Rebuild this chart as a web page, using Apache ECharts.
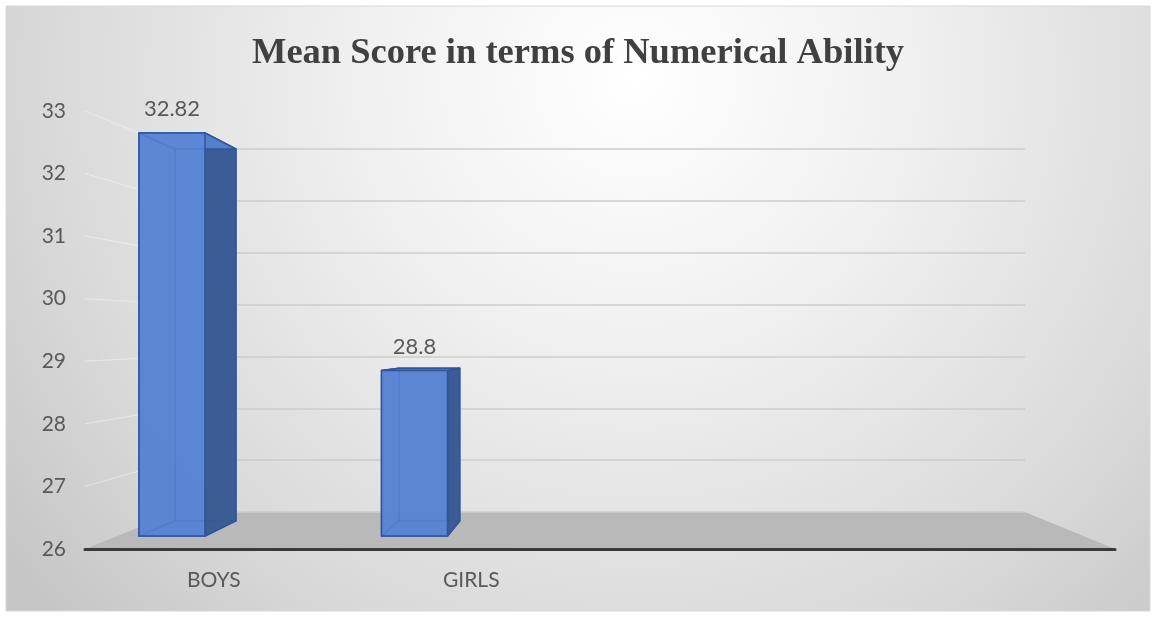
<!DOCTYPE html>
<html>
<head>
<meta charset="utf-8">
<title>Mean Score in terms of Numerical Ability</title>
<script src="https://cdn.jsdelivr.net/npm/echarts@6/dist/echarts.min.js"></script>
<style>
  html, body { margin: 0; padding: 0; background: #ffffff; }
  #chart { width: 1156px; height: 617px; }
</style>
</head>
<body>
<div id="chart"></div>
<script>
// 数据
const categories = ["BOYS", "GIRLS", "", ""];
const meanScores = [32.82, 28.8, null, null];
const yMin = 26;
const yMax = 33;
const yStep = 1;

// 3D 透视（像素）
const vanish = [606, 340];
const depthScale = 0.923;
const barRatio = 0.272;

const labelFont = "Lato";
const textColor = "#595959";

const chart = echarts.init(document.getElementById("chart"));

function toBack(p) {
  return [vanish[0] + depthScale * (p[0] - vanish[0]), vanish[1] + depthScale * (p[1] - vanish[1])];
}

function renderBox(params, api) {
  const idx = api.value(0);
  const v = api.value(1);
  const top = api.coord([idx, v]);
  const base = api.coord([idx, yMin]);
  const w = api.size([1, 0])[0] * barRatio;
  const x0 = top[0] - w / 2;
  const x1 = top[0] + w / 2;
  const y0 = top[1];
  const y1 = base[1];
  const f = [[x0, y0], [x1, y0], [x1, y1], [x0, y1]];
  const b = f.map(toBack);
  const edge = { stroke: "#2f55a0", lineWidth: 1.5, lineJoin: "round" };
  const face = (pts, fill) => ({
    type: "polygon",
    shape: { points: pts },
    style: Object.assign({ fill: fill }, edge),
  });
  return {
    type: "group",
    children: [
      face(b, "rgba(80,125,200,0.9)"),
      face([f[3], f[2], b[2], b[3]], "rgba(80,125,200,0.9)"),
      face([f[0], f[3], b[3], b[0]], "rgba(80,125,200,0.9)"),
      face([f[1], f[2], b[2], b[1]], "rgba(58,90,145,0.95)"),
      face([f[0], f[1], b[1], b[0]], "rgba(88,132,208,0.9)"),
      face(f, "rgba(90,134,212,0.84)"),
      {
        type: "text",
        style: {
          x: top[0],
          y: y0 - 24,
          text: String(v),
          fill: textColor,
          font: "22px " + labelFont,
          align: "center",
          verticalAlign: "middle",
        },
      },
    ],
  };
}

const option = {
  animation: false,
  title: {
    text: "Mean Score in terms of Numerical Ability",
    left: "center",
    top: 30,
    textStyle: {
      fontFamily: "Liberation Serif",
      fontWeight: "bold",
      fontSize: 36.5,
      color: "#404040",
    },
  },
  grid: [
    // 前平面：刻度标签与类目
    { left: 85, width: 1030, top: 110.8, height: 438.2 },
    // 柱体
    { left: 50.75, width: 970, top: 122.4, height: 413.6 },
    // 后墙网格
    { left: 177, width: 848, top: 149, height: 363 },
  ],
  xAxis: [
    {
      gridIndex: 0,
      type: "category",
      data: categories,
      axisLine: { lineStyle: { color: "#3a3a3a", width: 3 } },
      axisTick: { show: false },
      axisLabel: { color: textColor, fontFamily: labelFont, fontSize: 21, margin: 21 },
    },
    { gridIndex: 1, type: "category", data: categories, show: false },
    { gridIndex: 2, type: "category", data: categories, show: false },
  ],
  yAxis: [
    {
      gridIndex: 0,
      type: "value",
      min: yMin,
      max: yMax,
      interval: yStep,
      axisLine: { show: false },
      axisTick: { show: false },
      splitLine: { show: false },
      axisLabel: { color: textColor, fontFamily: labelFont, fontSize: 21, margin: 19 },
    },
    { gridIndex: 1, type: "value", min: yMin, max: yMax, interval: yStep, show: false, splitLine: { show: false } },
    {
      gridIndex: 2,
      type: "value",
      min: yMin,
      max: yMax,
      interval: yStep,
      axisLine: { show: false },
      axisTick: { show: false },
      axisLabel: { show: false },
      splitLine: { lineStyle: { color: "#cdcdcd", width: 1.5 } },
    },
  ],
  series: [
    {
      type: "custom",
      name: "Mean Score",
      xAxisIndex: 1,
      yAxisIndex: 1,
      renderItem: renderBox,
      data: meanScores
        .map((v, i) => (v == null ? null : [i, v]))
        .filter((d) => d),
      z: 5,
    },
  ],
};

chart.setOption(option);

// 背景、地板、左墙线
const yTicks = [];
for (let t = yMin; t <= yMax; t += yStep) yTicks.push(t);
const frontLeft = 85, frontRight = 1115, backLeft = 177, backRight = 1025;
const frontY = (v) => chart.convertToPixel({ yAxisIndex: 0 }, v);
const backY = (v) => chart.convertToPixel({ yAxisIndex: 2 }, v);

const graphics = [
  {
    type: "rect",
    z: -100,
    shape: { x: 6, y: 6, width: 1144, height: 605 },
    style: {
      fill: {
        type: "radial",
        x: 0.55,
        y: 0.12,
        r: 1.3,
        colorStops: [
          { offset: 0, color: "#ffffff" },
          { offset: 0.35, color: "#f0f0f0" },
          { offset: 0.75, color: "#d9d9d9" },
          { offset: 1, color: "#c6c6c6" },
        ],
      },
      stroke: "#d8d8d8",
      lineWidth: 1,
    },
  },
  {
    type: "polygon",
    z: -1,
    shape: {
      points: [
        [frontLeft, frontY(yMin)],
        [frontRight, frontY(yMin)],
        [backRight, backY(yMin)],
        [backLeft, backY(yMin)],
      ],
    },
    style: { fill: "#b9b9b9" },
  },
];
yTicks.slice(1).forEach((t) => {
  graphics.push({
    type: "line",
    z: -2,
    shape: { x1: frontLeft, y1: frontY(t), x2: backLeft, y2: backY(t) },
    style: { stroke: "rgba(255,255,255,0.4)", lineWidth: 1 },
  });
});
chart.setOption({ graphic: graphics });
</script>
</body>
</html>
